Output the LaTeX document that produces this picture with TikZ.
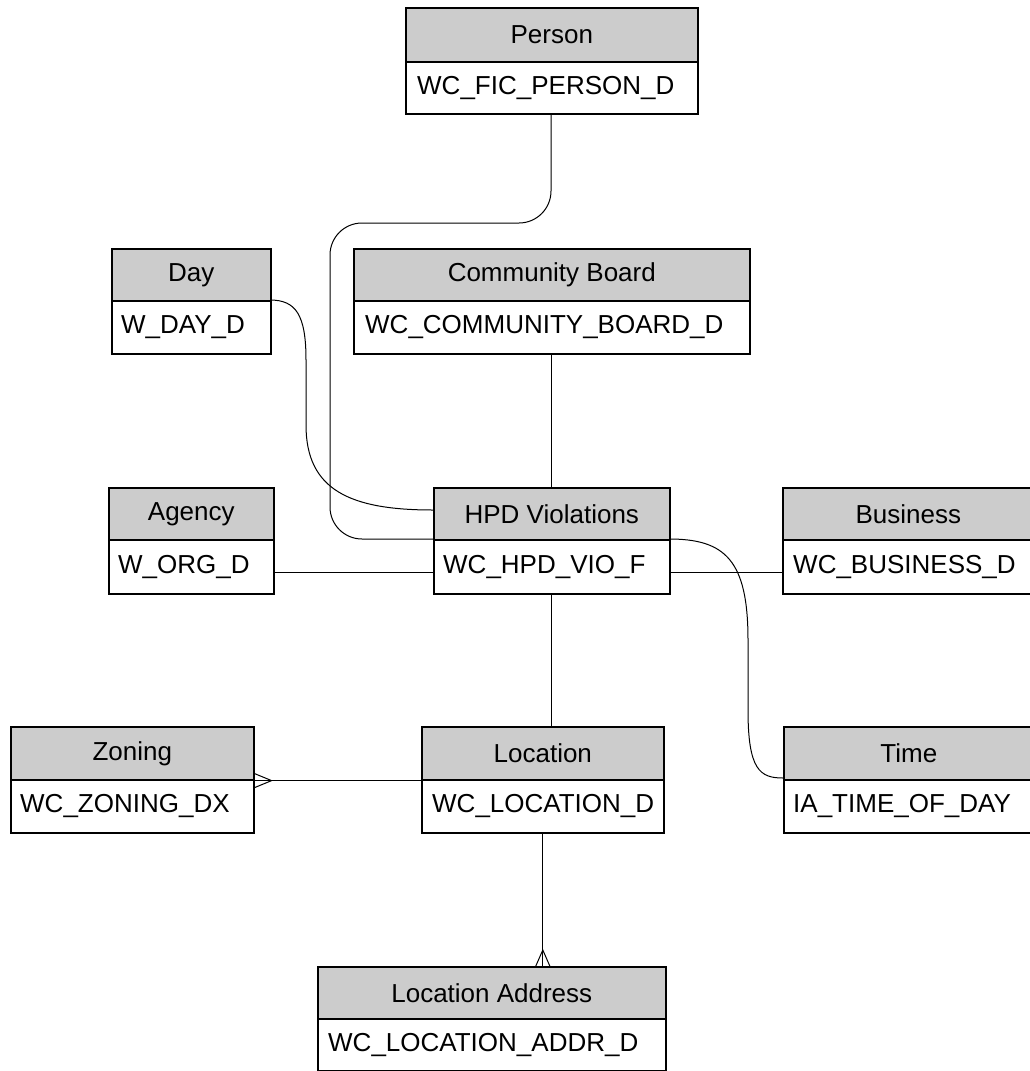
\documentclass[tikz,border=0pt]{standalone}
\usepackage{fontspec}
\setmainfont{Liberation Sans}
\definecolor{hdrgray}{HTML}{CCCCCC}
\tikzset{
  hdr/.style={draw=black, fill=hdrgray, line width=1.6pt, inner sep=0pt, anchor=north west, font=\fontsize{26}{31}\selectfont},
  bdy/.style={draw=black, fill=white, line width=1.6pt, inner sep=0pt, anchor=north west},
  btxt/.style={anchor=west, inner sep=0pt, font=\fontsize{26}{31}\selectfont},
  conn/.style={draw=black, line width=1pt},
}
\newcommand\ent[9]{%
  \node[hdr, minimum width={(#4-#2)*1pt}, minimum height={(#5-#3)*1pt}] (#1-h) at (#2,#3) {#7};
  \node[bdy, minimum width={(#4-#2)*1pt}, minimum height={(#6-#5)*1pt}] (#1-b) at (#2,#5) {};
  \node[btxt] (#1-t) at ([xshift=#9pt]#1-b.west) {#8};
}
\begin{document}
\begin{tikzpicture}[x=1pt,y=-1pt]
\useasboundingbox (0,0) rectangle (1029,1071);
\fill[white] (0,0) rectangle (1029,1071);

% connectors first (under boxes)
\draw[conn, rounded corners=32pt] (551,113) -- (551,223) -- (330,223) -- (330,539) -- (433,539);
\draw[conn] (270,300) .. controls (296,300) and (306,315) .. (306,360) -- (306,425) .. controls (306,490) and (350,510) .. (433,510);
\draw[conn] (669,539) .. controls (725,539) and (748,560) .. (748,640) -- (748,710) .. controls (748,770) and (760,778) .. (783,778);

\ent{per}{405}{7}{697}{61}{113}{Person}{WC\_FIC\_PERSON\_D}{12}
\ent{day}{111}{248}{270}{300}{353}{Day}{W\_DAY\_D}{10}
\ent{cb}{353}{248}{749}{300}{353}{Community Board}{WC\_COMMUNITY\_BOARD\_D}{12}
\ent{ag}{108}{487}{273}{539}{593}{Agency}{W\_ORG\_D}{10}
\ent{hpd}{433}{487}{669}{539}{593}{HPD Violations}{WC\_HPD\_VIO\_F}{10}
\ent{bus}{782}{487}{1033}{539}{593}{Business}{WC\_BUSINESS\_D}{11}
\ent{zon}{10}{726}{253}{779}{832}{Zoning}{WC\_ZONING\_DX}{10}
\ent{loc}{421}{726}{663}{779}{832}{Location}{WC\_LOCATION\_D}{11}
\ent{time}{783}{726}{1033}{779}{832}{Time}{IA\_TIME\_OF\_DAY}{10}
\ent{la}{317}{966}{665}{1018}{1070}{Location Address}{WC\_LOCATION\_ADDR\_D}{11}

% straight connectors
\draw[conn] (cb-b.south) -- (hpd-h.north);
\draw[conn] (hpd-b.south) -- (hpd-b.south |- loc-h.north);
\draw[conn] (loc-b.south) -- (loc-b.south |- la-h.north);
\draw[conn] ([yshift=-6pt]ag-b.east) -- ([yshift=-6pt]ag-b.east -| hpd-b.west);
\draw[conn] ([yshift=-6pt]hpd-b.east) -- ([yshift=-6pt]hpd-b.east -| bus-b.west);
\draw[conn] (zon-h.south east) -- (loc-h.south west);

% crow's feet
\draw[conn] ([yshift=7pt]zon-h.south east) -- ++(17,7) -- ++(-17,7);
\draw[conn] (loc-b.south |- la-h.north) ++(-7,0) -- ++(7,-16) -- ++(7,16);
\end{tikzpicture}
\end{document}
